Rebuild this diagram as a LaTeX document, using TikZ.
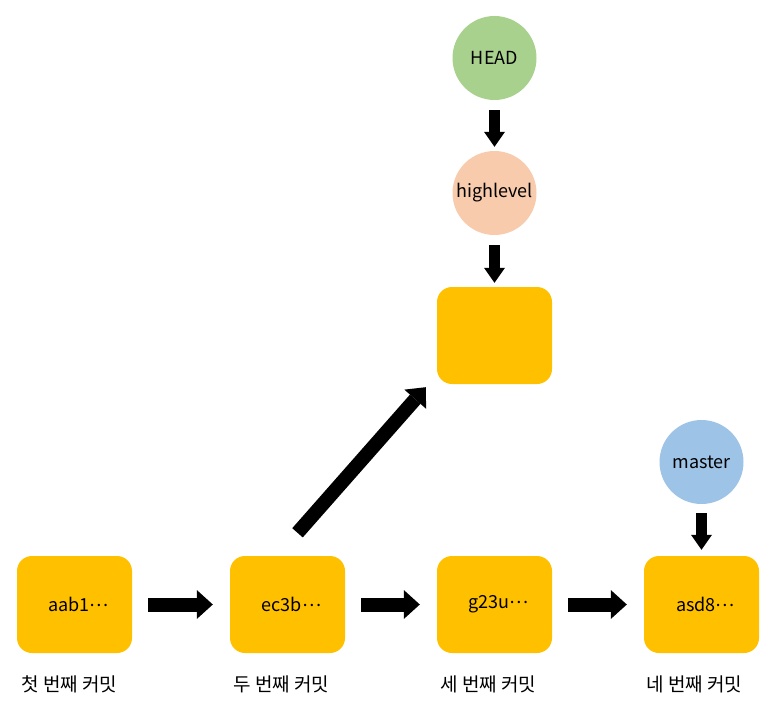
\documentclass[tikz,border=0pt]{standalone}
\usepackage{fontspec}
\setmainfont{Noto Sans CJK KR}
\usetikzlibrary{positioning, arrows.meta}

\definecolor{commitgold}{HTML}{FFC000}
\definecolor{headgreen}{HTML}{A9D18E}
\definecolor{branchpeach}{HTML}{F8CBAD}
\definecolor{masterblue}{HTML}{9DC3E6}
\newcommand{\middots}{\raisebox{0.3em}{…}}

\begin{document}
\begin{tikzpicture}
[x=1pt,y=-1pt,node distance=207pt,on grid,
                    font=\fontsize{18pt}{21pt}\selectfont,
                    commit/.style={fill=commitgold,rounded corners=15pt,
                      minimum width=115pt,minimum height=97pt,inner sep=0pt,
                      execute at begin node=\hspace*{8pt}},
                    pointer/.style={circle,minimum size=84pt,inner sep=0pt},
                    caption/.style={font=\fontsize{19pt}{22pt}\selectfont},
                    bigarrow/.style={line width=14pt,
                      -{Triangle[width=29pt,length=16pt,line width=0pt]}},
                    smallarrow/.style={line width=11pt,
                      -{Triangle[width=21pt,length=15pt,line width=0pt]}}]
\useasboundingbox (0,0) rectangle (773,714);

\node[commit] (c1) at (74.5,604.5) {aab1\middots};
\node[commit, right=213pt of c1] (c2) {ec3b\middots};
\node[commit, right=of c2] (c3) {g23u\middots};
\node[commit, right=of c3] (c4) {asd8\middots};
\node[commit, above=269pt of c3] (top) {};

\node[pointer, fill=branchpeach, above=142.5pt of top] (hl) {highlevel};
\node[pointer, fill=headgreen, above=135pt of hl] (head) {HEAD};
\node[pointer, fill=masterblue, above=142.5pt of c4] (master) {master};

% commit labels
\node[caption, below left=80pt and 5pt of c1] (l1) {첫 번째 커밋};
\node[caption, below left=80pt and 6pt of c2] (l2) {두 번째 커밋};
\node[caption, below left=80pt and 6pt of c3] (l3) {세 번째 커밋};
\node[caption, below left=80pt and 7pt of c4] (l4) {네 번째 커밋};

\draw[bigarrow, shorten <=16pt, shorten >=17pt] (c1) -- (c2);
\draw[bigarrow, shorten <=16pt, shorten >=17pt] (c2) -- (c3);
\draw[bigarrow, shorten <=16pt, shorten >=17pt] (c3) -- (c4);
\draw[bigarrow] ([xshift=10pt,yshift=23pt]c2.north)
	-- ([xshift=-11pt,yshift=-3pt]top.south west);

\draw[smallarrow, shorten <=10pt, shorten >=4pt] (head) -- (hl);
\draw[smallarrow, shorten <=10pt, shorten >=4pt] (hl) -- (top);
\draw[smallarrow, shorten <=9pt, shorten >=6pt] (master) -- (c4);
\end{tikzpicture}
\end{document}
